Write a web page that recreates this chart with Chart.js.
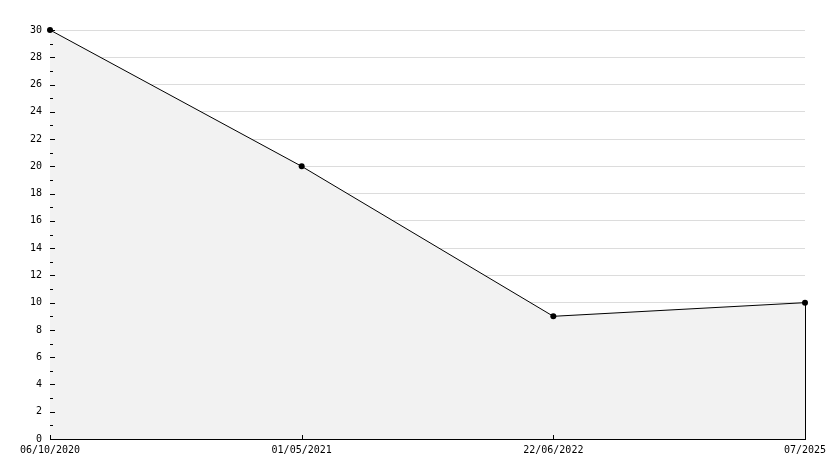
<!DOCTYPE html>
<html>
<head>
<meta charset="utf-8">
<script src="https://cdn.jsdelivr.net/npm/chart.js@4/dist/chart.umd.min.js"></script>
<style>
html,body{margin:0;padding:0;background:#fff;}
#wrap{width:834px;height:468px;position:relative;}
</style>
</head>
<body>
<div id="wrap"><canvas id="c" width="834" height="468"></canvas></div>
<script>
const categories = ["06/10/2020", "01/05/2021", "22/06/2022", "07/2025"];
const values = [30, 20, 9, 10];
const yMin = 0;
const yMax = 30;
const yMajorStep = 2;

const tickPlugin = {
  id: 'tickPlugin',
  afterDatasetsDraw(chart) {
    const ctx = chart.ctx;
    const y = chart.scales.y, x = chart.scales.x;
    const area = chart.chartArea;
    ctx.save();
    ctx.strokeStyle = '#000';
    ctx.lineWidth = 1;
    const meta = chart.getDatasetMeta(0);
    const last = meta.data[meta.data.length - 1];
    ctx.beginPath();
    ctx.moveTo(Math.round(last.x) + 0.5, last.y);
    ctx.lineTo(Math.round(last.x) + 0.5, y.getPixelForValue(0));
    ctx.stroke();
    for (let v = yMin; v <= yMax; v++) {
      const py = Math.round(y.getPixelForValue(v)) + 0.5;
      const len = (v % yMajorStep === 0) ? 5 : 3;
      ctx.beginPath();
      ctx.moveTo(area.left, py);
      ctx.lineTo(area.left + len, py);
      ctx.stroke();
    }
    categories.forEach((c, i) => {
      const px = Math.round(x.getPixelForValue(i)) + 0.5;
      ctx.beginPath();
      ctx.moveTo(px, area.bottom);
      ctx.lineTo(px, area.bottom - 4);
      ctx.stroke();
    });
    ctx.restore();
  }
};

new Chart(document.getElementById('c'), {
  type: 'line',
  data: {
    labels: categories,
    datasets: [{
      data: values,
      borderColor: '#000',
      borderWidth: 1,
      backgroundColor: '#f2f2f2',
      fill: 'origin',
      tension: 0,
      clip: false,
      pointRadius: 3,
      pointStyle: 'circle',
      pointBackgroundColor: '#000',
      pointBorderColor: '#000',
      pointBorderWidth: 0
    }]
  },
  options: {
    responsive: false,
    animation: false,
    layout: { padding: { top: 30, right: 29, left: 0, bottom: 0 } },
    plugins: { legend: { display: false }, tooltip: { enabled: false } },
    scales: {
      x: {
        type: 'category',
        offset: false,
        afterFit(s) { s.height = 29; },
        grid: { display: true, drawOnChartArea: false, drawTicks: false },
        border: { display: true, color: '#000', width: 1 },
        ticks: { color: '#000', font: { family: 'DejaVu Sans Mono', size: 10 }, padding: 5, maxRotation: 0, autoSkip: false }
      },
      y: {
        min: yMin,
        max: yMax,
        afterFit(s) { s.width = 50; },
        grid: {
          drawTicks: false,
          color: (ctx) => (ctx.tick && ctx.tick.value % yMajorStep === 0 && ctx.tick.value !== 0) ? '#dcdcdc' : 'rgba(0,0,0,0)',
          lineWidth: 1
        },
        border: { display: true, color: '#000', width: 1 },
        ticks: {
          stepSize: 1,
          autoSkip: false,
          color: '#000',
          font: { family: 'DejaVu Sans Mono', size: 10 },
          padding: 8,
          callback: (v) => (v % yMajorStep === 0 ? String(v) : '')
        }
      }
    }
  },
  plugins: [tickPlugin]
});
</script>
</body>
</html>
